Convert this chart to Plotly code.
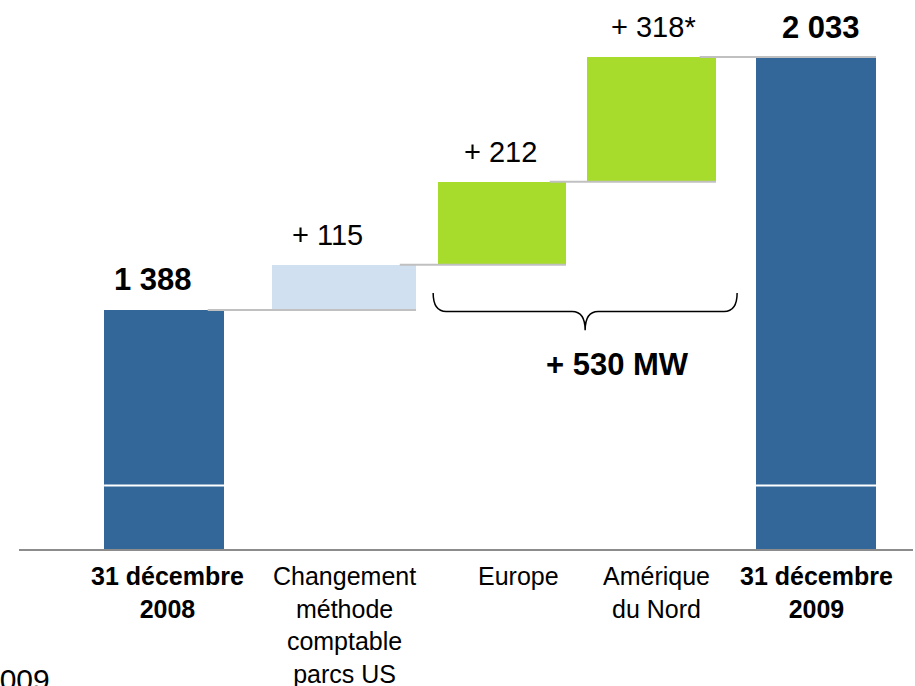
import plotly.graph_objects as go

# ---- data ----
categories = ["31 décembre 2008", "Changement méthode comptable parcs US",
              "Europe", "Amérique du Nord", "31 décembre 2009"]
tick_labels = ["<b>31 décembre<br>2008</b>", "Changement<br>méthode<br>comptable<br>parcs US",
               "Europe", "Amérique<br>du Nord", "<b>31 décembre<br>2009</b>"]
values = [1388, 115, 212, 318, 2033]
measures = ["absolute", "relative", "relative", "relative", "total"]
label_suffix = ["", "", "", "*", ""]
bracket_members = [2, 3]  # Europe + Amérique du Nord

# ---- styling ----
colors = ["#336699", "#D0E0F0", "#A8DC2C", "#A8DC2C", "#336699"]
widths = [0.736, 0.883, 0.785, 0.791, 0.736]
offsets = [-0.368, -0.337, -0.319, -0.405, -0.368]
label_nudge = [0.02, 0.0, 0.1, 0.03, 0.0]
value_nudge = [-0.067, 0.0, 0.067, 0.0, 0.03]
FONT = "Liberation Sans, Arial, sans-serif"
Y_MIN, Y_MAX = 778, 2153
AXIS_BREAK = 940

# waterfall geometry from data
bases, tops = [], []
cum = 0
for v, m in zip(values, measures):
    if m == "absolute":
        b, t = 0, v
    elif m == "relative":
        b, t = cum, cum + v
    else:
        b, t = 0, cum
    cum = t
    bases.append(b)
    tops.append(t)
heights = [t - b for t, b in zip(tops, bases)]

fig = go.Figure()
fig.add_trace(go.Bar(
    x=categories, y=heights, base=bases, width=widths, offset=offsets,
    marker=dict(color=colors, line=dict(width=0)),
    hoverinfo="skip", showlegend=False,
))

idx = list(range(len(categories)))
lefts = [i + o for i, o in zip(idx, offsets)]
rights = [l + w for l, w in zip(lefts, widths)]
centers = [(l + r) / 2 for l, r in zip(lefts, rights)]

shapes = []
# connectors
for i in range(len(values) - 1):
    shapes.append(dict(type="line", xref="x", yref="y",
                       x0=rights[i] - 0.1, x1=rights[i + 1], y0=tops[i], y1=tops[i],
                       line=dict(color="#C0C0C0", width=2), layer="above"))
# axis break marks on the total bars
for i, m in enumerate(measures):
    if m in ("absolute", "total"):
        shapes.append(dict(type="line", xref="x", yref="y",
                           x0=lefts[i], x1=rights[i], y0=AXIS_BREAK, y1=AXIS_BREAK,
                           line=dict(color="white", width=2), layer="above"))
# bracket
bx0 = lefts[bracket_members[0]] - 0.03
bx1 = rights[bracket_members[-1]] + 0.13
bxc = (bx0 + bx1) / 2
ytop = bases[bracket_members[0]] - 72
yh = ytop - 47
ytip = yh - 48
dx = 0.08
path = (f"M {bx0},{ytop} Q {bx0},{yh} {bx0+dx},{yh} L {bxc-dx},{yh} "
        f"Q {bxc},{yh} {bxc},{ytip} Q {bxc},{yh} {bxc+dx},{yh} "
        f"L {bx1-dx},{yh} Q {bx1},{yh} {bx1},{ytop}")
shapes.append(dict(type="path", xref="x", yref="y", path=path,
                   line=dict(color="black", width=1.5)))

annotations = []
# value labels
for i, (v, m) in enumerate(zip(values, measures)):
    if m == "relative":
        txt = f"+ {v}{label_suffix[i]}"
    else:
        txt = f"<b>{tops[i]:,}</b>".replace(",", " ")
    annotations.append(dict(x=i + value_nudge[i], y=tops[i], xref="x", yref="y", text=txt,
                            showarrow=False, yanchor="middle", yshift=30,
                            font=dict(family=FONT, size=29 if m == "relative" else 31,
                                      color="black")))
# category labels
for i, lab in enumerate(tick_labels):
    annotations.append(dict(x=centers[i] + label_nudge[i], y=0, xref="x", yref="paper",
                            text=lab, showarrow=False, yanchor="top", yshift=-11,
                            font=dict(family=FONT, size=25, color="black")))
bracket_total = sum(values[j] for j in bracket_members)
annotations.append(dict(x=bxc, y=ytip, xref="x", yref="y",
                        text=f"<b>+ {bracket_total} MW</b>", showarrow=False,
                        yanchor="middle", yshift=-34, xshift=32,
                        font=dict(family=FONT, size=31, color="black")))
annotations.append(dict(x=0.037, y=-0.243, xref="paper", yref="paper", text="2009",
                        showarrow=False, xanchor="right", yanchor="middle",
                        font=dict(family=FONT, size=30, color="black")))

fig.update_layout(
    width=915, height=686,
    margin=dict(l=19, r=2, t=10, b=137),
    plot_bgcolor="white", paper_bgcolor="white",
    bargap=0,
    shapes=shapes, annotations=annotations,
    xaxis=dict(type="category", range=[-0.89, 4.595], showticklabels=False,
               showline=True, linecolor="#8C8C8C", linewidth=2,
               showgrid=False, zeroline=False, ticks="", automargin=False),
    yaxis=dict(range=[Y_MIN, Y_MAX], visible=False, showgrid=False, zeroline=False,
               automargin=False),
)

fig.write_html("out.html", config={"displayModeBar": False},
               post_script="document.body.style.margin='0';")
